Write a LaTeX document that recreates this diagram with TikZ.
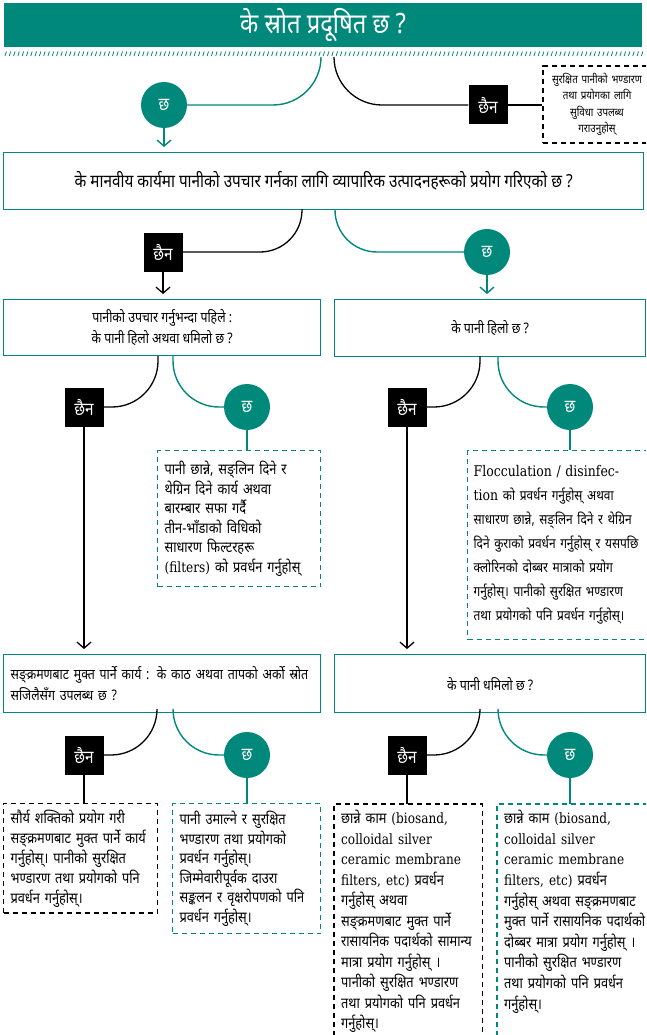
\documentclass[tikz,border=0pt]{standalone}
\usepackage{fontspec}
\setmainfont{Noto Sans}[Script=Devanagari, FakeStretch=0.85]
\newfontfamily\latf{DejaVu Serif}[FakeStretch=0.85, Scale=0.95]
\newfontfamily\latbig{DejaVu Serif}[FakeStretch=0.85, Scale=1.05]
\newcommand\lat[1]{{\latf #1}}
\usetikzlibrary{arrows.meta}

\definecolor{sroteal}{RGB}{0,137,123}

\tikzset{
  title/.style={fill=sroteal, text=white, minimum width=638pt, minimum height=44pt,
    font=\fontsize{28}{32}\selectfont},
  qbox/.style={draw=sroteal, line width=1.4pt, anchor=north west, inner sep=7pt,
    font=\fontsize{14.5}{21}\selectfont},
  yescirc/.style={circle, fill=sroteal, text=white, minimum size=46pt, inner sep=0pt,
    font=\fontsize{18}{20}\selectfont},
  nobox/.style={fill=black, text=white, minimum size=39pt, inner sep=0pt,
    font=\fontsize{18}{20}\selectfont},
  yesline/.style={draw=sroteal, line width=1.4pt},
  noline/.style={draw=black, line width=1.3pt},
  dasht/.style={draw=sroteal, line width=1.3pt, dash pattern=on 5pt off 4pt},
  dashk/.style={draw=black, line width=1.3pt, dash pattern=on 5pt off 4pt},
  tip/.style={anchor=north west, align=left, inner xsep=7pt, inner ysep=6pt,
    font=\fontsize{15}{19.5}\selectfont},
  barb/.style={-{Straight Barb[length=6pt,width=14pt]}, shorten >=5pt},
}

\begin{document}
\begin{tikzpicture}[x=1pt, y=-1pt]
  \clip (0,0) rectangle (646,1035);

  % heading and hatched strip
  \node[title] (head) at (323,25) {के स्रोत प्रदूषित छ ?};
  \foreach \i in {0,...,148}
    \draw[sroteal, line width=0.8pt] ({5+4.3*\i},56) -- ++(1.4,-4.5);

  % first question
  \coordinate (s0a) at (321,57);
  \coordinate (s0b) at (334,57);
  \node[yescirc] (y0) at (164,105) {छ};
  \node[nobox] (n0) at (488,105) {छैन};
  \node[dashk, align=center, text width=94pt, minimum height=73pt, inner sep=7pt,
    font=\fontsize{11.5}{16.5}\selectfont] (t0) at (597,104.5)
    {सुरक्षित पानीको भण्डारण\\तथा प्रयोगका लागि\\सुविधा उपलब्ध\\गराउनुहोस्};
  \draw[yesline, rounded corners=48pt] (s0a) |- (y0);
  \draw[noline, rounded corners=48pt] (s0b) |- (n0);
  \draw[noline] (n0) -- (n0 -| t0.west);

  \node[qbox, minimum width=640pt, minimum height=57pt, font=\fontsize{18}{21}\selectfont]
    (q2) at (3,152)
    {के मानवीय कार्यमा पानीको उपचार गर्नका लागि व्यापारिक उत्पादनहरूको प्रयोग गरिएको छ ?};
  \draw[yesline, barb] (y0) -- (y0 |- q2.north);

  % second question
  \coordinate (s2a) at (302,209);
  \coordinate (s2b) at (335,209);
  \node[nobox] (n2) at (163,252) {छैन};
  \node[yescirc] (y2) at (487,252) {छ};
  \draw[noline, rounded corners=42pt] (s2a) |- (n2);
  \draw[yesline, rounded corners=42pt] (s2b) |- (y2);

  \node[qbox, align=center, minimum width=317pt, minimum height=56pt] (q3l) at (3,299)
    {पानीको उपचार गर्नुभन्दा पहिले :\\के पानी हिलो अथवा धमिलो छ ?};
  \node[qbox, minimum width=311pt, minimum height=57pt] (q3r) at (334,299)
    {के पानी हिलो छ ?};
  \draw[noline, barb] (n2) -- (n2 |- q3l.north);
  \draw[yesline, barb] (y2) -- (y2 |- q3r.north);

  % muddy water, both sides
  \coordinate (s3a) at (158,356);
  \coordinate (s3b) at (173,356);
  \coordinate (s3c) at (480,356);
  \coordinate (s3d) at (498,356);
  \node[nobox] (n3l) at (84,407) {छैन};
  \node[yescirc] (y3l) at (247,407) {छ};
  \node[nobox] (n3r) at (407,407) {छैन};
  \node[yescirc] (y3r) at (570,407) {छ};
  \draw[noline, rounded corners=46pt] (s3a) |- (n3l);
  \draw[yesline, rounded corners=46pt] (s3b) |- (y3l);
  \draw[noline, rounded corners=46pt] (s3c) |- (n3r);
  \draw[yesline, rounded corners=46pt] (s3d) |- (y3r);

  \node[tip, dasht, text width=149pt, minimum height=136pt] (t3l) at (157,450)
    {पानी छान्ने, सङ्लिन दिने र\\थेग्रिन दिने कार्य अथवा\\बारम्बार सफा गर्दै\\तीन-भाँडाको विधिको\\साधारण फिल्टरहरू\\\lat{(filters)} को प्रवर्धन गर्नुहोस्};
  \node[tip, dasht, inner xsep=6pt, text width=200pt, minimum height=189pt,
    font=\fontsize{14}{24}\selectfont] (t3r) at (467,450)
    {{\latbig Flocculation / disinfec-}\\{\latbig tion} को प्रवर्धन गर्नुहोस् अथवा\\साधारण छान्ने, सङ्लिन दिने र थेग्रिन\\दिने कुराको प्रवर्धन गर्नुहोस् र यसपछि\\क्लोरिनको दोब्बर मात्राको प्रयोग\\गर्नुहोस्। पानीको सुरक्षित भण्डारण\\तथा प्रयोगको पनि प्रवर्धन गर्नुहोस्।};
  \draw[yesline] (y3l) -- (y3l |- t3l.north);
  \draw[yesline] (y3r) -- (y3r |- t3r.north);

  % third row of questions
  \node[qbox, text width=303pt, align=left, minimum height=58pt] (q4l) at (3,654)
    {सङ्क्रमणबाट मुक्त पार्ने कार्य : के काठ अथवा तापको अर्को स्रोत\\सजिलैसँग उपलब्ध छ ?};
  \node[qbox, minimum width=311pt, minimum height=58pt] (q4r) at (334,654)
    {के पानी धमिलो छ ?};
  \draw[noline, barb] (n3l) -- (n3l |- q4l.north);
  \draw[noline, barb] (n3r) -- (n3r |- q4r.north);

  \coordinate (s4a) at (157,712);
  \coordinate (s4b) at (173,712);
  \coordinate (s4c) at (480,712);
  \coordinate (s4d) at (498,712);
  \node[nobox] (n4l) at (84,755) {छैन};
  \node[yescirc] (y4l) at (247,755) {छ};
  \node[nobox] (n4r) at (407,755) {छैन};
  \node[yescirc] (y4r) at (570,755) {छ};
  \draw[noline, rounded corners=46pt] (s4a) |- (n4l);
  \draw[yesline, rounded corners=46pt] (s4b) |- (y4l);
  \draw[noline, rounded corners=46pt] (s4c) |- (n4r);
  \draw[yesline, rounded corners=46pt] (s4d) |- (y4r);

  % advice boxes at the bottom
  \node[tip, dashk, text width=140pt, minimum height=107pt, font=\fontsize{15}{20}\selectfont]
    (b1) at (3,803)
    {सौर्य शक्तिको प्रयोग गरी\\सङ्क्रमणबाट मुक्त पार्ने कार्य\\गर्नुहोस्। पानीको सुरक्षित\\भण्डारण तथा प्रयोगको पनि\\प्रवर्धन गर्नुहोस्।};
  \node[tip, dasht, text width=134pt, minimum height=130pt] (b2) at (172,803)
    {पानी उमाल्ने र सुरक्षित\\भण्डारण तथा प्रयोगको\\प्रवर्धन गर्नुहोस्।\\जिम्मेवारीपूर्वक दाउरा\\सङ्कलन र वृक्षरोपणको पनि\\प्रवर्धन गर्नुहोस्।};
  \node[tip, text width=134pt, font=\fontsize{15}{20.5}\selectfont] (b3) at (334,804)
    {छान्ने काम \lat{(biosand,}\\\lat{colloidal silver}\\\lat{ceramic membrane}\\\lat{filters, etc)} प्रवर्धन\\गर्नुहोस् अथवा\\सङ्क्रमणबाट मुक्त पार्ने\\रासायनिक पदार्थको सामान्य\\मात्रा प्रयोग गर्नुहोस् ।\\पानीको सुरक्षित भण्डारण\\तथा प्रयोगको पनि प्रवर्धन\\गर्नुहोस्।};
  \node[tip, text width=150pt, font=\fontsize{15}{20.6}\selectfont] (b4) at (497,804)
    {छान्ने काम \lat{(biosand,}\\\lat{colloidal silver}\\\lat{ceramic membrane}\\\lat{filters, etc)} प्रवर्धन\\गर्नुहोस् अथवा सङ्क्रमणबाट\\मुक्त पार्ने रासायनिक पदार्थको\\दोब्बर मात्रा प्रयोग गर्नुहोस् ।\\पानीको सुरक्षित भण्डारण\\तथा प्रयोगको पनि प्रवर्धन\\गर्नुहोस्।};
  \coordinate (foot) at (0,1045);
  \draw[dashk] (b3.north west |- foot) -- (b3.north west) -- (b3.north east) -- (b3.north east |- foot);
  \draw[dasht] (b4.north west |- foot) -- (b4.north west) -- (b4.north east);

  \draw[noline] (n4l) -- (n4l |- b1.north);
  \draw[yesline] (y4l) -- (y4l |- b2.north);
  \draw[noline] (n4r) -- (n4r |- b3.north);
  \draw[yesline] (y4r) -- (y4r |- b4.north);
\end{tikzpicture}
\end{document}
